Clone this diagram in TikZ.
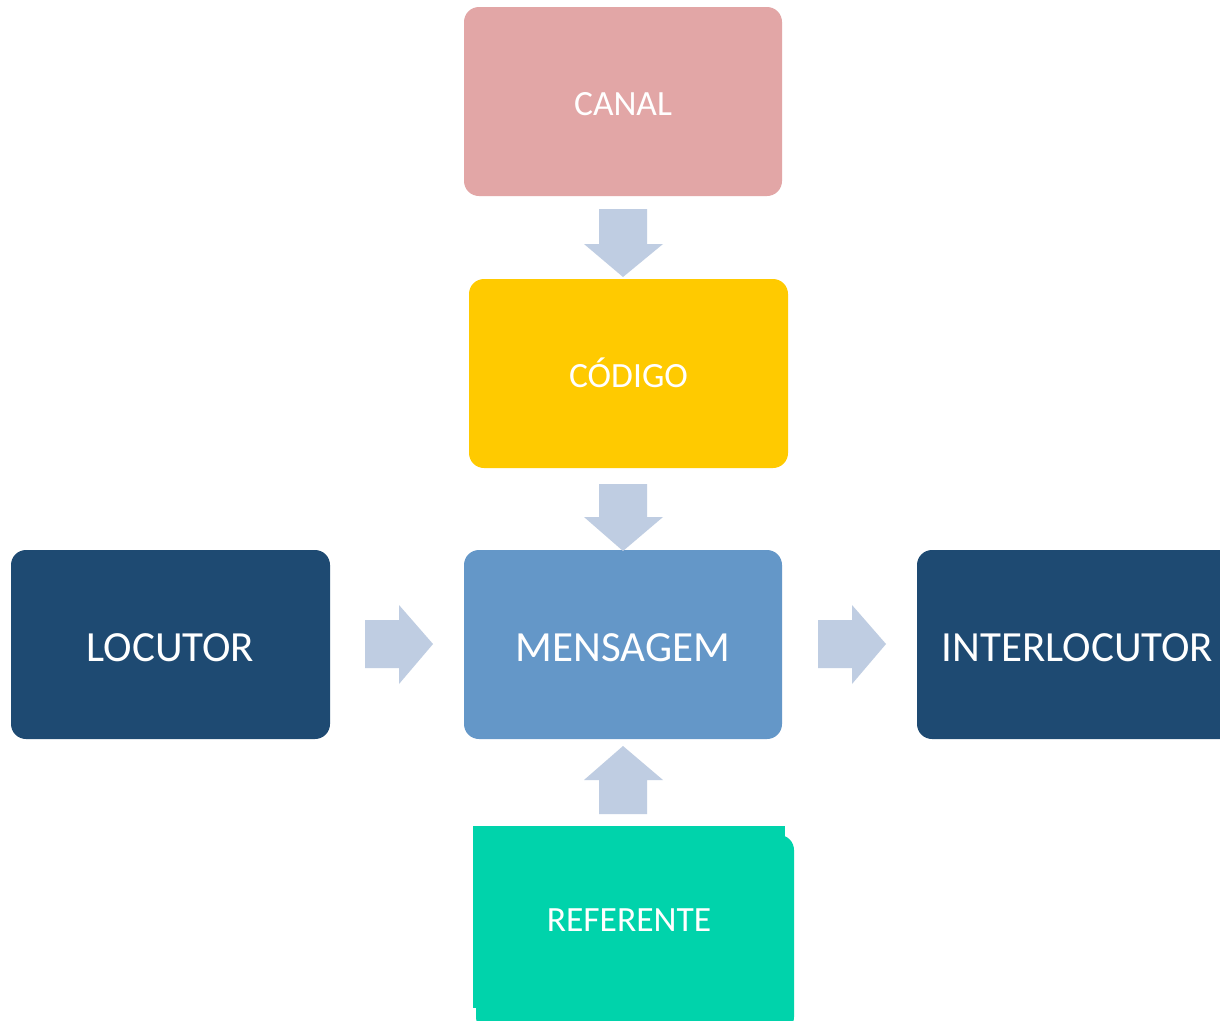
\documentclass[tikz,border=0pt]{standalone}
\usepackage{fontspec}
\setmainfont{Carlito}
\definecolor{canalc}{RGB}{226,166,166}
\definecolor{codigoc}{RGB}{255,202,0}
\definecolor{mensc}{RGB}{100,151,200}
\definecolor{locc}{RGB}{30,74,114}
\definecolor{refc}{RGB}{0,211,171}
\definecolor{arrc}{RGB}{191,205,226}
\tikzset{
  box/.style={fill=#1, draw=none, rounded corners=15pt, minimum width=318pt, minimum height=189pt,
    text=white, inner sep=0pt, text depth=0pt, align=center},
  small/.style={font=\fontsize{35.5}{40}\selectfont, text height=28pt},
  big/.style={font=\fontsize{43}{48}\selectfont, text height=33pt},
  blockarrow/.style={fill=arrc, draw=none},
}
\begin{document}
\begin{tikzpicture}[x=1pt,y=-1pt]
\clip (0,0) rectangle (1220,1020);
\fill[white] (0,0) rectangle (1220,1020);
% boxes
\node[box=canalc, small] (canal) at (623,101.5) {CANAL};
\node[box=codigoc, small, minimum width=319pt] (codigo) at (628.5,373.5) {CÓDIGO};
\node[box=mensc, big] (mens) at (623,644.5) {MENSAGEM};
\node[box=locc, big, minimum width=319pt] (loc) at (170.5,644.5) {LOCUTOR};
\node[box=locc, big, minimum width=321pt] (inter) at (1077.5,644.5) {INTERLOCUTOR};
\fill[refc, rounded corners=15pt] (476,835) rectangle (794,1032);
\node[box=refc, small, rounded corners=0pt, minimum width=312pt, minimum height=182pt] (ref) at (629,917) {REFERENTE};
% block arrows
\fill[blockarrow] (599,209) -- (647,209) -- (647,244) -- (663,244) -- (623,277) -- (584,244) -- (599,244) -- cycle;
\fill[blockarrow] (599,484) -- (647,484) -- (647,517) -- (663,517) -- (623,551) -- (584,517) -- (599,517) -- cycle;
\fill[blockarrow] (623,746) -- (663,780) -- (647,780) -- (647,814) -- (599,814) -- (599,780) -- (584,780) -- cycle;
\fill[blockarrow] (365,620) -- (399,620) -- (399,605) -- (433,644) -- (399,684) -- (399,668) -- (365,668) -- cycle;
\fill[blockarrow] (818,620) -- (852,620) -- (852,605) -- (886,644) -- (852,684) -- (852,668) -- (818,668) -- cycle;
\end{tikzpicture}
\end{document}
